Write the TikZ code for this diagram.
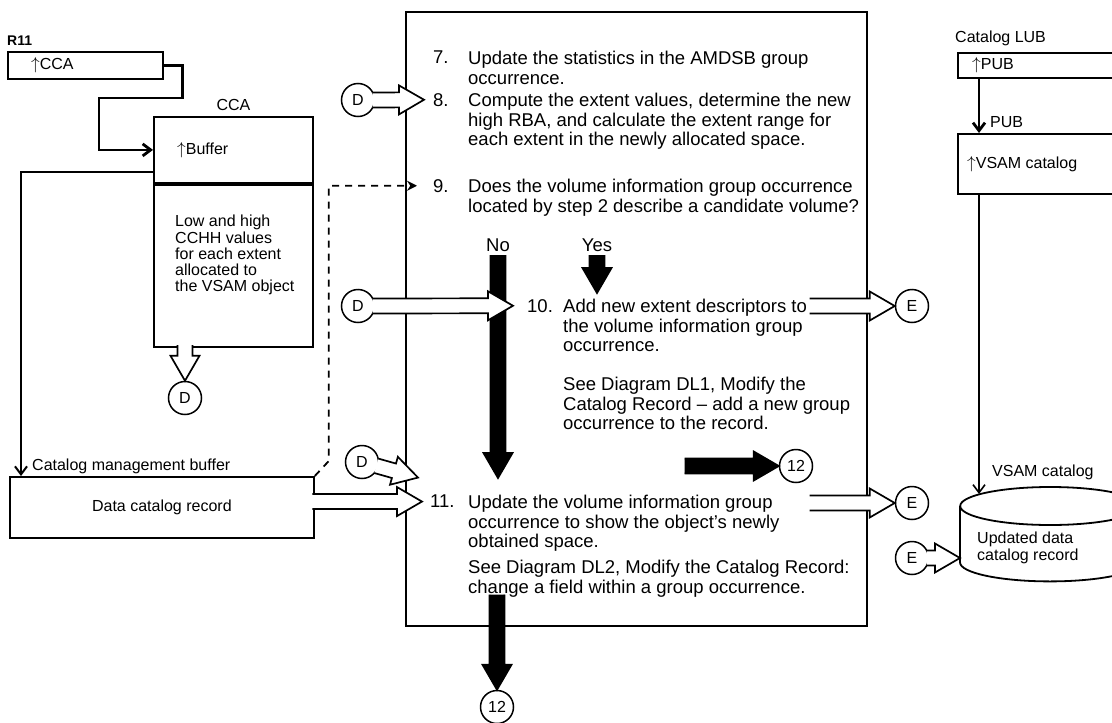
\documentclass[tikz,border=0pt]{standalone}
\usepackage{fontspec}
\setmainfont{Liberation Sans}
\usetikzlibrary{positioning,arrows.meta,calc}

\tikzset{
    x=1pt,
    y=-1pt,
    >={Straight Barb[length=8pt,width=12pt]},
    note/.style = {
        inner sep=0pt,
        font=\fontsize{16}{16.3}\selectfont
    },
    steptext/.style = {
        inner sep=0pt,
        anchor=north west,
        align=left,
        font=\fontsize{18.5}{19.5}\selectfont
    },
    field/.style = {
        draw,
        shape=rectangle,
        anchor=north west,
        inner sep=0pt,
        line width=1.8pt,
        font=\fontsize{16}{16.3}\selectfont
    },
    offpage/.style = {
        draw,
        shape=circle,
        fill=white,
        minimum size=33pt,
        inner sep=0pt,
        line width=1.5pt,
        font=\fontsize{16}{16.3}\selectfont
    },
    pointer/.style = {
        draw,
        ->,
        line width=2.8pt
    },
    flow/.style = {
        draw,
        ->,
        line width=2pt
    },
    blockline/.style = {
        draw,
        line width=1.7pt,
        line join=miter
    }
}

% wide arrow from #2 to the tip #3, outlined, filled with #1
\newcommand{\blockarrow}[3][white]{
    \coordinate (tail) at ($(#2)!-2.5pt!(#3)$);
    \coordinate (neck) at ($(#3)!25pt!(#2)$);
    \path[blockline, fill=#1]
        ($(tail)!7.5pt!90:(#3)$) -- ($(neck)!7.5pt!90:(#3)$)
        -- ($(neck)!14.5pt!90:(#3)$) -- (#3)
        -- ($(neck)!14.5pt!-90:(#3)$) -- ($(neck)!7.5pt!-90:(#3)$)
        -- ($(tail)!7.5pt!-90:(#3)$);
}

\begin{document}
\begin{tikzpicture}
    \path[use as bounding box, clip] (0,0) rectangle (1112,723);

    % R11 and the CCA
    \node[note, anchor=west, font=\fontsize{14}{15}\selectfont\bfseries] at (7,41) {R11};
    \node[field, minimum width=155pt, minimum height=27pt] (r11) at (7,51) {};
    \node[note, right=24pt of r11.west] {$\uparrow$CCA};
    \node[field, minimum width=159pt, minimum height=66pt] (ccaptr) at (153,116) {};
    \node[field, below=0pt of ccaptr, minimum width=159pt, minimum height=162pt] (ccaext) {};
    \node[note, above=5pt of ccaptr] {CCA};
    \node[note, right=24pt of ccaptr.west] {$\uparrow$Buffer};
    \node[note, anchor=north west, align=left] at (175,215) {Low and high\\CCHH values\\for each extent\\allocated to\\the VSAM object};
    \node[offpage] (dcca) at (185,398) {D};
    \path[pointer] (r11.east) -- ++(19,0) |- (99,98) |- (ccaptr.west);

    % catalog management buffer
    \node[field, minimum width=304pt, minimum height=61pt] (buffer) at (9,476) {Data catalog record};
    \node[note, above right=2pt and 23pt of buffer.north west] {Catalog management buffer};
    \path[flow] ([yshift=-22pt]ccaptr.west) -| ([xshift=12pt]buffer.north west);

    % steps 7 to 11
    \node[field, minimum width=461pt, minimum height=614pt] (steps) at (405,11) {};
    \node[steptext] (n7) at (433,51) {7.};
    \node[steptext] (t7) at (468,51) {Update the statistics in the AMDSB group\\occurrence.};
    \node[steptext] (n8) at (433,93) {8.};
    \node[steptext] (t8) at (468,93) {Compute the extent values, determine the new\\high RBA, and calculate the extent range for\\each extent in the newly allocated space.};
    \node[steptext] (n9) at (433,179) {9.};
    \node[steptext] (t9) at (468,179) {Does the volume information group occurrence\\located by step 2 describe a candidate volume?};
    \node[steptext, anchor=center] (nolbl) at (498,245) {No};
    \node[steptext, anchor=center] (yeslbl) at (597,245) {Yes};
    \node[steptext] (n10) at (527,299) {10.};
    \node[steptext] (t10) at (563,299) {Add new extent descriptors to\\the volume information group\\occurrence.};
    \node[steptext] (s10) at (563,377) {See Diagram DL1, Modify the\\Catalog Record -- add a new group\\occurrence to the record.};
    \node[steptext] (n11) at (430,495) {11.};
    \node[steptext] (t11) at (468,495) {Update the volume information group\\occurrence to show the object’s newly\\obtained space.};
    \node[steptext] (s11) at (468,560) {See Diagram DL2, Modify the Catalog Record:\\change a field within a group occurrence.};

    \node[offpage] (d8) at (358,100) {D};
    \node[offpage] (d10) at (358,306) {D};
    \node[offpage] (d11) at (362,462) {D};
    \node[offpage] (e10) at (912,306) {E};
    \node[offpage] (e11) at (912,503) {E};
    \node[offpage] (e12) at (912,558) {E};
    \node[offpage] (c12a) at (796,466) {12};
    \node[offpage] (c12b) at (497,707) {12};

    \path[draw, dashed, dash pattern=on 7pt off 6pt, line width=1.8pt, -{Stealth[length=10pt,width=10pt]}]
        (buffer.north east) -- ++(14,-15) |- ([xshift=-16pt]n9.west);

    % catalog LUB, PUB and the VSAM catalog
    \node[note, anchor=west] at (955,38) {Catalog LUB};
    \node[field, minimum width=180pt, minimum height=25pt] (lub) at (957,52) {};
    \node[note, right=15pt of lub.west] {$\uparrow$PUB};
    \node[field, minimum width=180pt, minimum height=60pt] (pub) at (957,133) {};
    \node[note, right=10pt of pub.west] {$\uparrow$VSAM catalog};
    \node[note, anchor=west] at (990,122) {PUB};
    \path[pointer] ([xshift=22pt]lub.south west) -- ([xshift=22pt]pub.north west);

    \node[minimum width=180pt, minimum height=56pt, inner sep=0pt, anchor=north west] (vsamcat) at (960,506) {};
    \draw[line width=1.8pt] (vsamcat.north west) -- (vsamcat.south west)
        arc[start angle=180, end angle=0, x radius=90, y radius=19] -- (vsamcat.north east);
    \draw[line width=1.8pt, fill=white] (vsamcat.north) ellipse[x radius=90, y radius=19];
    \node[note, anchor=north west, align=left] at (977,532) {Updated data\\catalog record};
    \node[note, anchor=west] at (992,472) {VSAM catalog};
    \coordinate (vsamtop) at (979,494);
    \path[flow, line width=1.6pt] ([xshift=22pt]pub.south west) -- (vsamtop);

    % block arrows
    \coordinate (nofoot) at ([yshift=-6pt]nolbl.south);
    \coordinate (notip) at (nolbl |- 0,478);
    \coordinate (yesfoot) at ([yshift=-6pt]yeslbl.south);
    \coordinate (yestip) at (yeslbl |- 0,293);
    \coordinate (in8) at ([xshift=-9pt]n8.west);
    \coordinate (in10) at ([xshift=-14pt]n10.west);
    \coordinate (in11) at ([xshift=-8pt]n11.west);
    \coordinate (in11d) at ([xshift=-12pt, yshift=24pt]n11.west);
    \coordinate (out10) at (812,306);
    \coordinate (out11) at (812,503);
    \coordinate (to12) at (687,466);
    \coordinate (from11) at (c12b |- 0,597);
    \coordinate (ccafoot) at (dcca |- ccaext.south);
    \coordinate (vsamin) at (vsamcat.west |- e12);

    \blockarrow[black]{nofoot}{notip}
    \blockarrow[black]{yesfoot}{yestip}
    \blockarrow[black]{to12}{c12a.west}
    \blockarrow[black]{from11}{c12b.north}
    \blockarrow{ccafoot}{dcca.north}
    \blockarrow{d8.east}{in8}
    \blockarrow{d10.east}{in10}
    \blockarrow{d11.-15}{in11d}
    \blockarrow{buffer.east |- in11}{in11}
    \blockarrow{out10}{e10.west}
    \blockarrow{out11}{e11.west}
    \blockarrow{e12.east}{vsamin}
\end{tikzpicture}
\end{document}
